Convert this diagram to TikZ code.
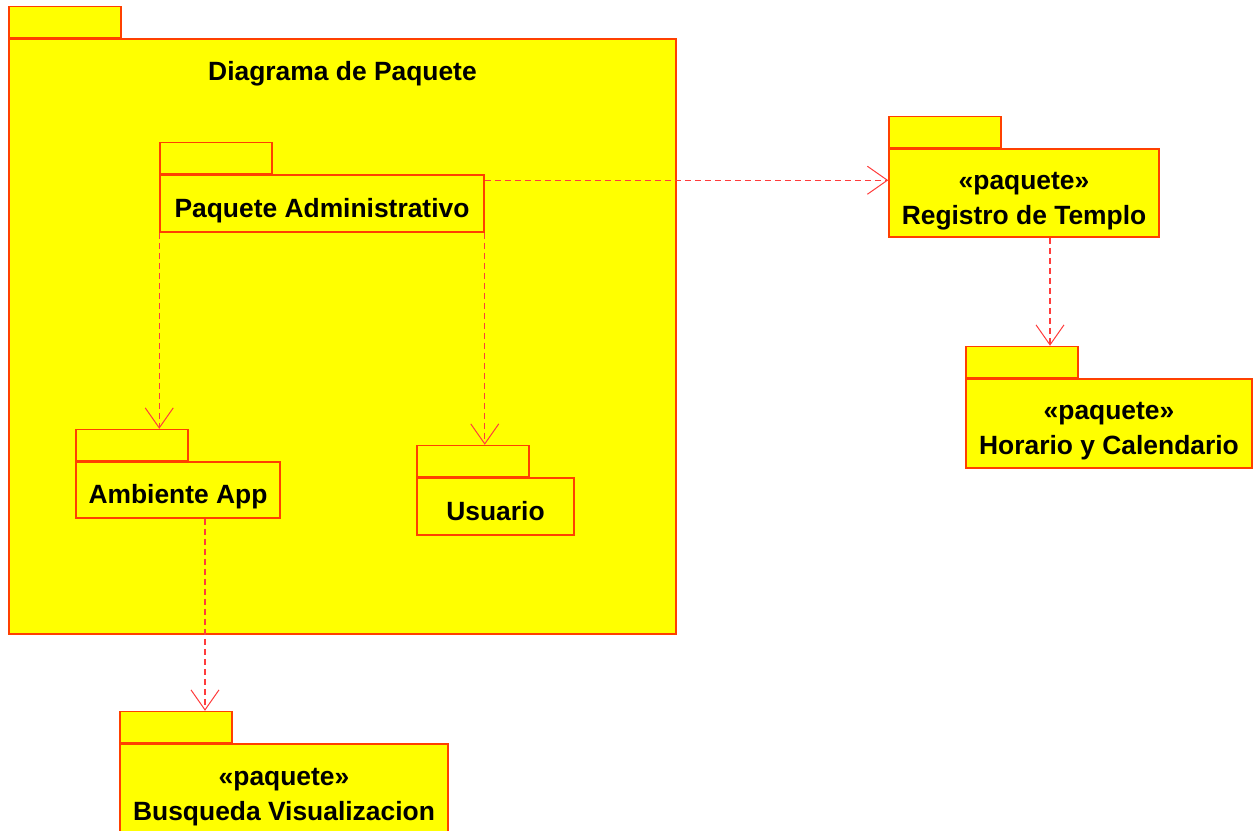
\documentclass[tikz,border=0pt]{standalone}
\usepackage{fontspec}
\setmainfont{Liberation Sans}
\usetikzlibrary{positioning,arrows.meta}
\definecolor{pkgline}{RGB}{255,64,0}
\definecolor{pkgfill}{RGB}{255,255,0}
\definecolor{depline}{RGB}{255,60,60}

\begin{document}
\begin{tikzpicture}[
  x=1bp, y=-1bp,
  every node/.style={font=\bfseries\fontsize{26.5}{35}\selectfont},
  pkg-body/.style={draw=pkgline,fill=pkgfill,line width=1.5bp,inner sep=0pt,align=center,
    text depth=0pt,text height=27bp},
  pkg-stereo/.style={pkg-body,text height=62bp},
  pkg-tab/.style={draw=pkgline,fill=pkgfill,line width=1.5bp,inner sep=0pt,
    minimum width=112bp,minimum height=31bp,anchor=south west},
  dep-arrow/.style={draw=depline,line width=1.4bp,dash pattern=on 6bp off 4bp,
    -{Straight Barb[length=20bp,width=28bp,line width=1bp]}},
  ]

  \useasboundingbox (0,0) rectangle (1254,831);

  \node [pkg-body,minimum width=667bp,minimum height=595bp] (outer-body) at (342.5,336.5) {};
  \node [pkg-tab] (outer-tab) at (outer-body.north west) {};
  \node [below=20bp of outer-body.north] (outer-title) {Diagrama de Paquete};

  \node [pkg-body,minimum width=324bp,minimum height=57bp] (adm-body) at (322,203.5)
    {Paquete Administrativo};
  \node [pkg-tab] (adm-tab) at (adm-body.north west) {};

  \node [pkg-body,minimum width=204bp,minimum height=56bp] (amb-body) at (178,490)
    {Ambiente App};
  \node [pkg-tab] (amb-tab) at (amb-body.north west) {};

  \node [pkg-body,minimum width=157bp,minimum height=57bp] (usr-body) at (495.5,506.5)
    {Usuario};
  \node [pkg-tab] (usr-tab) at (usr-body.north west) {};

  \node [pkg-stereo,minimum width=270bp,minimum height=88bp] (reg-body) at (1024,193)
    {«paquete»\\Registro de Templo};
  \node [pkg-tab] (reg-tab) at (reg-body.north west) {};

  \node [pkg-stereo,minimum width=286bp,minimum height=89bp] (hor-body) at (1109,423.5)
    {«paquete»\\Horario y Calendario};
  \node [pkg-tab] (hor-tab) at (hor-body.north west) {};

  \node [pkg-stereo,minimum width=328bp,minimum height=90bp] (bus-body) at (284,789)
    {«paquete»\\Busqueda Visualizacion};
  \node [pkg-tab] (bus-tab) at (bus-body.north west) {};

  \draw [dep-arrow] ([yshift=-6bp]adm-body.north east) -- ([yshift=-6bp]adm-body.north east -| reg-body.west);
  \draw [dep-arrow] (adm-body.south west) -- (adm-body.south west |- amb-tab.north);
  \draw [dep-arrow] (adm-body.south east) -- (adm-body.south east |- usr-tab.north);
  \draw [dep-arrow] ([xshift=27bp]amb-body.south) -- ([xshift=27bp]amb-body.south |- bus-tab.north);
  \draw [dep-arrow] ([xshift=26bp]reg-body.south) -- ([xshift=26bp]reg-body.south |- hor-tab.north);

\end{tikzpicture}
\end{document}
